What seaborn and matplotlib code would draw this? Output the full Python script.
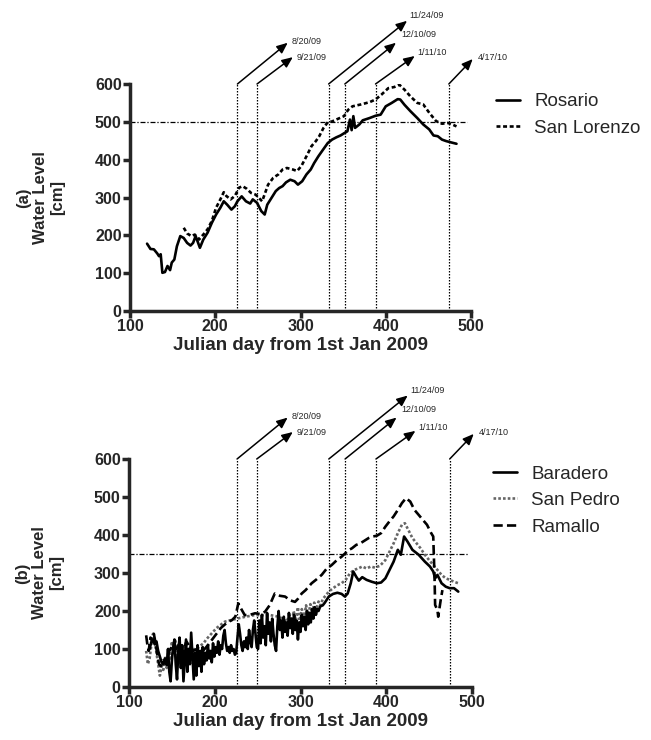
import matplotlib
matplotlib.use("Agg")
import matplotlib.pyplot as plt
import seaborn as sns

# ---------------- data ----------------
ros_day = [120,124,128,132,134,136,138,141,144,147,149,152,155,159,163,167,171,174,177,182,
           186,191,196,201,206,210,214,219,223,226,231,236,241,244,249,254,258,261,266,271,
           275,279,283,288,293,297,302,307,312,316,321,326,332,337,342,347,352,355,358,360,
           362,364,369,373,381,388,394,400,407,414,417,422,429,437,444,451,456,461,466,471,
           476,483]
ros_val = [178,164,163,152,145,150,101,103,119,108,128,136,171,198,193,180,173,180,198,167,
           189,207,233,255,273,290,281,268,277,290,303,290,284,295,286,264,255,281,299,317,
           325,330,340,347,343,334,343,361,374,391,409,425,444,453,459,464,471,475,506,478,
           515,484,493,504,510,516,519,541,550,560,559,545,528,510,493,480,464,462,453,449,
           446,442]

sl_day = [163,167,172,176,181,186,191,196,201,206,210,213,218,223,228,232,237,242,247,249,
          255,262,268,274,279,284,291,296,301,307,313,318,322,327,332,337,344,351,356,361,
          371,381,388,395,403,410,416,422,429,437,444,451,459,466,473,478,483]
sl_val = [220,205,198,202,189,202,216,238,273,295,314,304,295,304,326,330,323,312,308,304,
          290,334,352,361,374,378,374,370,383,409,436,449,462,484,499,501,508,515,532,541,
          546,552,559,572,589,592,598,585,567,550,546,524,502,495,497,493,488]

bar_day = [124,126,128,130,132,134,136,138,140,142,144,145.5,147,148.5,150,151.5,153,154.5,156,157.5,
           159,160.5,162,163.5,165,166.5,168,169.5,171,172.5,174,175.5,177,178.5,180,181.5,183,184.5,186,187.5,
           189,190.5,192,193.5,195,196.5,198,199.5,201,202.5,204,205.5,207,208.5,210,211.5,213,214.5,216,217.5,
           219,220.5,222,223.5,225,226.5,228,229.5,231,232.5,234,235.5,237,238.5,240,241.5,243,244.5,246,247.5,
           249,250.5,252,253.5,255,256.5,258,259.5,261,262.5,264,265.5,267,268.5,270,271.5,273,274.5,276,277.5,
           279,280.5,282,283.5,285,286.5,288,289.5,291,292.5,294,295.5,297,298.5,300,301.5,303,304.5,306,307.5,
           309,310.5,312,313.5,315,316.5,318,319.5,321,323,326,328.4,333,338,343,347.9,351.8,355,358.6,361.5,
           365,368,372,377,383,389,394,399,403.8,408.6,413.5,417,420.8,424.7,430.5,437.8,445,451,454.8,457,
           459.7,464.5,469.4,474,479,484]
bar_val = [100,118,125,112,120,95,80,65,60,75,58,100,40,15,70,105,125,60,20,95,
           130,50,110,15,70,125,40,100,60,143,80,20,90,30,110,55,95,40,105,60,
           90,70,110,75,95,65,115,80,105,90,120,85,110,100,135,150,115,95,105,90,
           110,95,100,85,90,130,165,140,110,95,120,105,130,100,150,120,105,150,175,140,
           105,100,175,115,190,130,160,110,195,140,170,120,180,140,110,95,160,200,150,175,
           130,185,145,170,135,195,155,180,140,190,150,175,125,170,145,190,160,185,150,200,
           165,195,170,205,180,210,190,205,200,212,215,222,238,245,248,245,238,246,273,304,
           290,280,289,282,277,273,275,286,308,330,361,348,396,383,361,348,330,317,304,286,
           295,273,264,260,260,251]

sp_day = [120,122,124,126,128,130,132,134,136,138,140,142,144,146,148,150,152,154,156,158,
          160,162,164,166,168,170,172,174,176,178,181,184,187,190,194,198,202,206,211.8,219,
          226,236,245.8,255.5,265,275,280,284,287,289.5,292,294.4,297,299,301.5,304,306.5,309,311.5,313.8,
          316,318.7,321,323.6,326,328.4,333,338,343,347.9,352.7,357.6,362.4,367.3,372,377,382,386.8,392.6,399,
          403.8,408.6,413.5,418.3,421.7,425.6,430.5,435.4,440,445,450,454.8,459.7,464.5,469.4,474,479,484]
sp_val = [95,60,75,110,140,120,90,60,30,55,45,80,50,100,70,120,85,125,70,110,
          60,100,75,115,70,95,110,85,100,90,105,110,115,125,135,145,155,162,172,176,
          180,185,189,189,189,185,178,172,190,160,200,175,210,168,205,180,215,185,218,195,
          222,205,225,215,232,238,251,260,268,273,282,299,308,312,317,312,317,314,319,334,
          356,378,405,427,431,414,392,378,365,348,334,321,308,295,286,282,277,273]

ram_day = [120,121.5,123,125,127,129,131,133,135,137,140,143,147,151,155,159,163,167,171,175,
           179,183,187,192,197,202,207,212,216.6,220,224,227.5,231,235,241,247,253,258.6,264,270,
           276,282,288,293.6,297,301.4,306,313,318,324.7,330,336.4,342,348,356,360,365,369.7,374.6,379.5,
           384,389,394,399,403.8,408.6,413.5,418.3,423,428,432.9,437.8,442.6,447.5,452.4,454.8,456.3,457,459.7,
           460.6,463.5,465.5]
ram_val = [136,110,95,130,120,140,115,85,60,55,70,60,95,110,100,115,90,120,105,95,
           100,95,97,110,125,140,155,165,172,176,185,220,205,189,190,194,192,198,215,246,
           240,238,228,224,232,246,255,273,282,295,310,321,333,343,360,365,374,378,385,392,
           396,398,405,422,436,449,466,484,497,488,466,453,440,427,405,396,290,216,202,
           185,229,255]

event_labels = ["8/20/09", "9/21/09", "11/24/09", "12/10/09", "1/11/10", "4/17/10"]
event_days = [226, 249, 333, 352, 388, 474]
ref_level_a = 500
ref_level_b = 350

# ---------------- layout (not data) ----------------
arrow_tips = [(285, 709), (291, 671), (425, 767), (412, 709), (434, 674), (502, 666)]
label_pos = [(290, 713), (296, 671), (428, 781), (418, 731), (437, 682), (508, 671)]

sns.set_style("ticks")
plt.rcParams['font.family'] = ['Liberation Sans', 'DejaVu Sans']

fig = plt.figure(figsize=(6.51, 7.40), dpi=100)
ax1 = fig.add_axes([130/651, 1-311/740, 341/651, 227/740])
ax2 = fig.add_axes([129/651, 1-687/740, 343/651, 228/740])

LW = 1.9
sns.lineplot(x=ros_day, y=ros_val, ax=ax1, color="black", lw=LW, label="Rosario", sort=False)
sns.lineplot(x=sl_day, y=sl_val, ax=ax1, color="black", lw=LW, label="San Lorenzo", sort=False,
             linestyle=(0, (1.5, 1.0)))

sns.lineplot(x=sp_day, y=sp_val, ax=ax2, color="#666666", lw=LW, label="San Pedro", sort=False,
             linestyle=(0, (1.0, 0.8)))
sns.lineplot(x=bar_day, y=bar_val, ax=ax2, color="black", lw=LW, label="Baradero", sort=False)
sns.lineplot(x=ram_day, y=ram_val, ax=ax2, color="black", lw=LW, label="Ramallo", sort=False,
             linestyle=(0, (3.5, 1.6)))

panels = [(ax1, ref_level_a, "(a)", None, (1.073, 0.960)),
          (ax2, ref_level_b, "(b)", [1, 0, 2], (1.061, 0.972))]
for ax, ref, tag, order, lpos in panels:
    ax.set_xlim(100, 500)
    ax.set_ylim(0, 600)
    ax.set_xticks(range(100, 501, 100))
    ax.set_yticks(range(0, 601, 100))
    for s in ["top", "right"]:
        ax.spines[s].set_visible(False)
    for s in ["left", "bottom"]:
        ax.spines[s].set_linewidth(2.5)
    ax.tick_params(axis="both", which="major", length=5, width=2.5, direction="out",
                   labelsize=11.5, pad=1)
    for t in ax.get_xticklabels() + ax.get_yticklabels():
        t.set_fontweight("bold")
    ax.set_xlabel("Julian day from 1st Jan 2009", fontsize=13.5, fontweight="bold", labelpad=2)
    ax.set_ylabel(f"{tag}\nWater Level\n[cm]", fontsize=12, fontweight="bold", linespacing=1.15)
    ax.yaxis.set_label_coords(-0.19, 0.5)

    ax.hlines(ref, 100, 495, colors="black", lw=0.9, linestyles=[(0, (4, 1.5, 1, 1.5))], zorder=1)
    ax.vlines(event_days, 0, 600, colors="black", lw=0.9, linestyles=[(0, (1.2, 1.2))], zorder=1)
    for d, tip, lp, lab in zip(event_days, arrow_tips, label_pos, event_labels):
        ax.annotate("", xy=tip, xytext=(d, 600), annotation_clip=False,
                    arrowprops=dict(arrowstyle="-|>,head_length=0.65,head_width=0.28",
                                    color="black", lw=1.1, shrinkA=0, shrinkB=0))
        ax.text(lp[0], lp[1], lab, fontsize=6.5, ha="left", va="center", clip_on=False)

    handles, labels = ax.get_legend_handles_labels()
    if order is not None:
        handles = [handles[i] for i in order]
        labels = [labels[i] for i in order]
    ax.legend(handles, labels, loc="upper left", bbox_to_anchor=lpos, frameon=False,
              fontsize=13.5, handlelength=1.3, handletextpad=0.75, labelspacing=0.5,
              borderpad=0, borderaxespad=0)

fig.savefig("out.png", dpi=100)
